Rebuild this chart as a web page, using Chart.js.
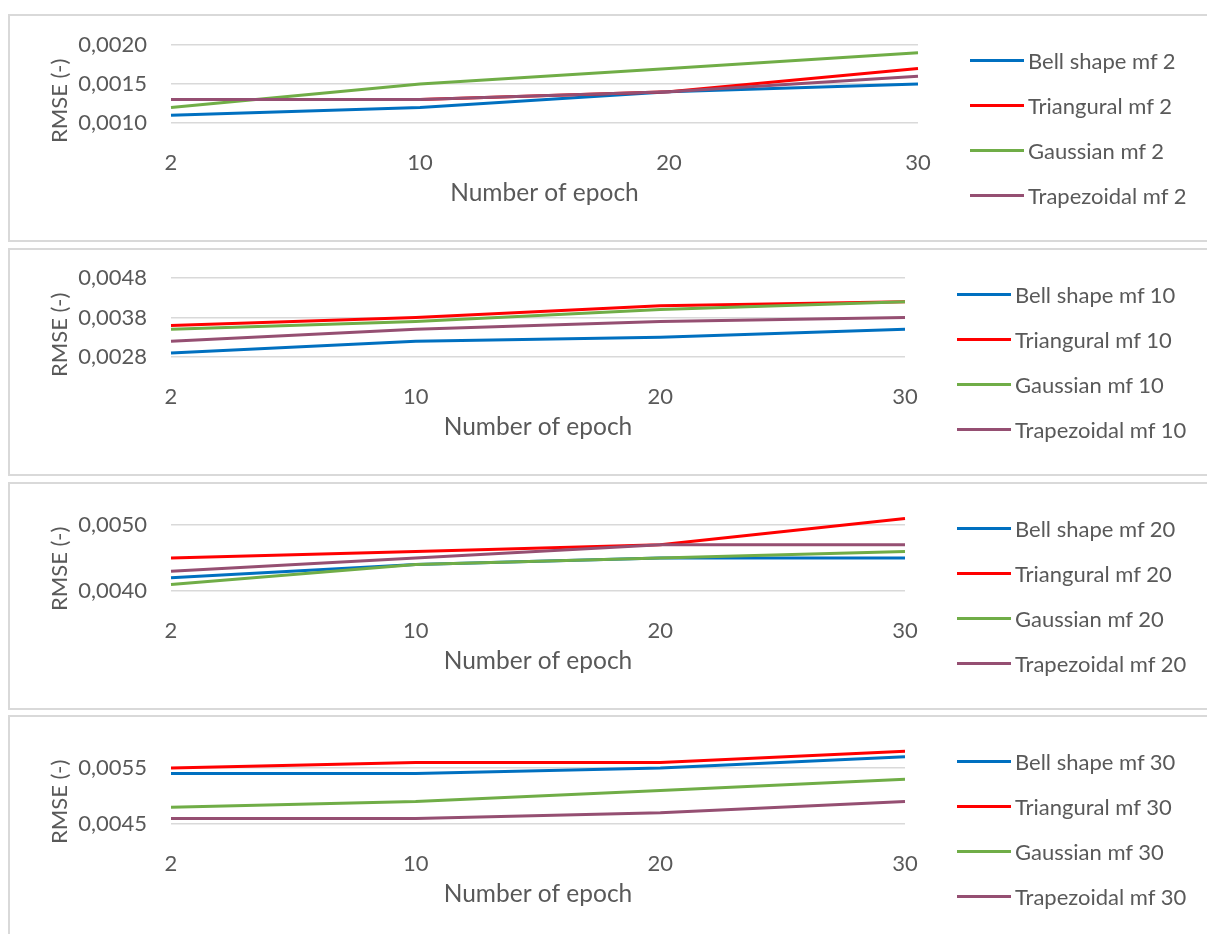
<!DOCTYPE html>
<html lang="en">
  <head>
    <meta charset="UTF-8" />
    <meta name="viewport" content="width=device-width, initial-scale=1.0" />
    <title>RMSE - Number of epoch</title>
    <style>
      body {
        margin: 0;
        background: #fff;
        width: 1207px;
        height: 934px;
        overflow: hidden;
        position: relative;
        font-family: Lato, sans-serif;
      }
      .panel {
        position: absolute;
        left: 8px;
        width: 1214px;
        height: 228px;
        border: 2px solid #d9d9d9;
        box-sizing: border-box;
      }
      .chart-box {
        position: absolute;
        left: 0;
        top: 0;
        width: 1197px;
        height: 224px;
      }
      .legend {
        position: absolute;
        top: 22px;
      }
      .legend-item {
        height: 45px;
        display: flex;
        align-items: center;
        color: #595959;
        font-size: 22px;
        white-space: nowrap;
      }
      .legend-line {
        width: 54px;
        height: 3px;
        margin-right: 4px;
      }
    </style>
  </head>
  <body>
    <div class="panel" style="top: 14px">
      <div class="chart-box"><canvas id="chart-1"></canvas></div>
      <div class="legend" id="legend-1"></div>
    </div>
    <div class="panel" style="top: 248px">
      <div class="chart-box"><canvas id="chart-2"></canvas></div>
      <div class="legend" id="legend-2"></div>
    </div>
    <div class="panel" style="top: 482px">
      <div class="chart-box"><canvas id="chart-3"></canvas></div>
      <div class="legend" id="legend-3"></div>
    </div>
    <div class="panel" style="top: 715px">
      <div class="chart-box"><canvas id="chart-4"></canvas></div>
      <div class="legend" id="legend-4"></div>
    </div>

    <script src="https://cdn.jsdelivr.net/npm/chart.js"></script>
    <script>
      const epochs = ["2", "10", "20", "30"];
      const mfCounts = [2, 10, 20, 30];
      const seriesNames = ["Bell shape", "Triangural", "Gaussian", "Trapezoidal"];
      const seriesColors = ["#0070C0", "#FF0000", "#70AD47", "#954F72"];

      const bellMf2 = [0.0011, 0.0012, 0.0014, 0.0015];
      const triMf2 = [0.0013, 0.0013, 0.0014, 0.0017];
      const gaussMf2 = [0.0012, 0.0015, 0.0017, 0.0019];
      const trapMf2 = [0.0013, 0.0013, 0.0014, 0.0016];

      const bellMf10 = [0.0029, 0.0032, 0.0033, 0.0035];
      const triMf10 = [0.0036, 0.0038, 0.0041, 0.0042];
      const gaussMf10 = [0.0035, 0.0037, 0.004, 0.0042];
      const trapMf10 = [0.0032, 0.0035, 0.0037, 0.0038];

      const bellMf20 = [0.0042, 0.0044, 0.0045, 0.0045];
      const triMf20 = [0.0045, 0.0046, 0.0047, 0.0051];
      const gaussMf20 = [0.0041, 0.0044, 0.0045, 0.0046];
      const trapMf20 = [0.0043, 0.0045, 0.0047, 0.0047];

      const bellMf30 = [0.0054, 0.0054, 0.0055, 0.0057];
      const triMf30 = [0.0055, 0.0056, 0.0056, 0.0058];
      const gaussMf30 = [0.0048, 0.0049, 0.0051, 0.0053];
      const trapMf30 = [0.0046, 0.0046, 0.0047, 0.0049];

      // y axis range of each panel (tick labels)
      const yMin = [0.001, 0.0028, 0.004, 0.0045];
      const yMax = [0.002, 0.0048, 0.005, 0.0055];
      const yStep = [0.0005, 0.001, 0.001, 0.001];

      const panelSeries = [
        [bellMf2, triMf2, gaussMf2, trapMf2],
        [bellMf10, triMf10, gaussMf10, trapMf10],
        [bellMf20, triMf20, gaussMf20, trapMf20],
        [bellMf30, triMf30, gaussMf30, trapMf30],
      ];

      // plot area placement inside each canvas
      const topPad = [29, 28, 41, 51];
      const rightPad = [289, 302, 302, 302];

      Chart.defaults.font.family = "Lato, sans-serif";
      Chart.defaults.font.size = 22;
      Chart.defaults.color = "#595959";

      // Excel-style rotated y title, anchored below the plot bottom
      const yTitle = {
        id: "yTitle",
        afterDraw(chart) {
          const ctx = chart.ctx;
          ctx.save();
          ctx.translate(50, chart.chartArea.bottom + 20);
          ctx.rotate(-Math.PI / 2);
          ctx.font = "22px Lato, sans-serif";
          ctx.fillStyle = "#595959";
          ctx.textAlign = "left";
          ctx.textBaseline = "middle";
          ctx.fillText("RMSE (-)", 0, 0);
          ctx.restore();
        },
      };

      function makeChart(i) {
        const datasets = panelSeries[i].map((values, k) => ({
          label: seriesNames[k] + " mf " + mfCounts[i],
          data: values,
          borderColor: seriesColors[k],
          backgroundColor: seriesColors[k],
          borderWidth: 3,
          pointRadius: 0,
          tension: 0,
          clip: false,
          order: 4 - k,
        }));

        const chart = new Chart(document.getElementById("chart-" + (i + 1)), {
          type: "line",
          data: { labels: epochs, datasets: datasets },
          plugins: [yTitle],
          options: {
            responsive: true,
            maintainAspectRatio: false,
            animation: false,
            layout: {
              padding: { top: topPad[i], right: rightPad[i], left: 0, bottom: 0 },
            },
            plugins: {
              legend: { display: false },
              tooltip: { enabled: false },
            },
            scales: {
              x: {
                offset: false,
                grid: { display: false },
                border: { display: false },
                ticks: { padding: 19, maxRotation: 0 },
                title: {
                  display: true,
                  text: "Number of epoch",
                  font: { size: 24.5 },
                  padding: { top: 0, bottom: 32 },
                },
                afterFit(axis) {
                  axis.height = 117;
                },
              },
              y: {
                min: yMin[i],
                max: yMax[i],
                border: { display: false },
                grid: { color: "#d9d9d9", lineWidth: 1.5, drawTicks: false },
                ticks: {
                  stepSize: yStep[i],
                  padding: 24,
                  callback: (v) => v.toFixed(4).replace(".", ","),
                },
                afterFit(axis) {
                  axis.width = 161;
                  // keep the tick padding from pushing the plot top down
                  axis.paddingTop = 0;
                  axis.paddingBottom = 0;
                },
              },
            },
          },
        });

        const legend = document.getElementById("legend-" + (i + 1));
        legend.style.left = chart.chartArea.right + 52 + "px";
        datasets.forEach((ds) => {
          const item = document.createElement("div");
          item.className = "legend-item";
          const line = document.createElement("span");
          line.className = "legend-line";
          line.style.background = ds.borderColor;
          item.appendChild(line);
          item.appendChild(document.createTextNode(ds.label));
          legend.appendChild(item);
        });
      }

      for (let i = 0; i < 4; i++) {
        makeChart(i);
      }
    </script>
  </body>
</html>
